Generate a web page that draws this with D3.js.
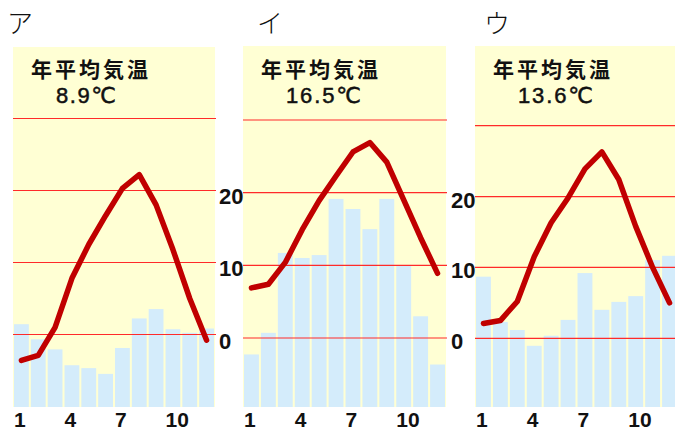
<!DOCTYPE html>
<html>
<head>
<meta charset="utf-8">
<script src="https://cdn.jsdelivr.net/npm/d3@7"></script>
<style>
  html, body { margin: 0; padding: 0; background: #ffffff; }
  svg { display: block; }
</style>
</head>
<body>
<svg id="chart" width="675" height="430"></svg>
<script>
// ---------- data ----------
const months = [1, 2, 3, 4, 5, 6, 7, 8, 9, 10, 11, 12];
const monthTickLabels = [1, 4, 7, 10];
const gridTemps = [0, 10, 20, 30];
const tempTickLabels = [0, 10, 20];
const panelNames = ["ア", "イ", "ウ"];
const titleText = "年平均気温";
const annualMeans = ["8.9", "16.5", "13.6"];

// monthly mean temperature (°C)
const tempA = [-3.6, -2.9, 1.0, 7.8, 12.5, 16.5, 20.3, 22.2, 18.0, 11.8, 5.0, -0.8];
const tempI = [6.9, 7.4, 10.4, 14.9, 18.9, 22.3, 25.6, 26.9, 24.2, 19.0, 13.8, 8.9];
const tempU = [2.1, 2.5, 5.2, 11.5, 16.3, 19.8, 23.9, 26.3, 22.4, 15.8, 10.0, 5.0];

// monthly precipitation (mm)
const precA = [115, 94, 80, 58, 54, 46, 82, 123, 136, 108, 103, 109];
const precI = [73, 103, 214, 207, 211, 289, 275, 247, 289, 196, 126, 59];
const precU = [181, 118, 107, 85, 99, 121, 186, 135, 146, 154, 204, 210];

const precipMax = 500;

// ---------- layout ----------
const layouts = [
  { x0: 13,  x1: 215, top: 47, bottom: 407, t0: 334.5, t30: 118.5, nameX: 7,   showAxis: false },
  { x0: 243, x1: 446, top: 46, bottom: 407, t0: 338,   t30: 120,   nameX: 257, showAxis: true },
  { x0: 475, x1: 678, top: 46, bottom: 407, t0: 338.3, t30: 125.7, nameX: 484, showAxis: true }
];
const temps = [tempA, tempI, tempU];
const precs = [precA, precI, precU];

const svg = d3.select("#chart");

layouts.forEach((L, i) => {
  const g = svg.append("g");

  const x = d3.scaleBand().domain(months).range([L.x0, L.x1])
    .paddingInner(0.12).paddingOuter(0.06);
  const yT = d3.scaleLinear().domain([0, 30]).range([L.t0, L.t30]);
  const yP = d3.scaleLinear().domain([0, precipMax]).range([L.bottom, L.bottom - 360]);

  // background
  g.append("rect")
    .attr("x", L.x0).attr("y", L.top)
    .attr("width", L.x1 - L.x0).attr("height", L.bottom - L.top)
    .attr("fill", "#ffffd4");

  // precipitation bars
  g.selectAll("rect.bar").data(precs[i]).join("rect")
    .attr("class", "bar")
    .attr("x", (d, k) => x(months[k]))
    .attr("width", x.bandwidth())
    .attr("y", d => yP(d))
    .attr("height", d => yP(0) - yP(d))
    .attr("fill", "#d4ecfb");

  // gridlines
  g.selectAll("line.grid").data(gridTemps).join("line")
    .attr("class", "grid")
    .attr("x1", L.x0).attr("x2", L.x1 + 1)
    .attr("y1", d => yT(d)).attr("y2", d => yT(d))
    .attr("stroke", "#ff2a2a").attr("stroke-width", 1.2);

  // temperature line
  const line = d3.line()
    .x((d, k) => x(months[k]) + x.bandwidth() / 2)
    .y(d => yT(d));
  g.append("path")
    .datum(temps[i])
    .attr("d", line)
    .attr("fill", "none")
    .attr("stroke", "#c00000")
    .attr("stroke-width", 5.5)
    .attr("stroke-linejoin", "round")
    .attr("stroke-linecap", "round");

  // y tick labels
  if (L.showAxis) {
    g.selectAll("text.ytick").data(tempTickLabels).join("text")
      .attr("class", "ytick")
      .attr("x", L.x0 - 24)
      .attr("y", d => yT(d) + 11)
      .attr("font-family", "'Liberation Sans', Arial, sans-serif")
      .attr("font-weight", "bold")
      .attr("font-size", 22)
      .attr("fill", "#111")
      .text(d => d);
  }

  // month tick labels
  g.selectAll("text.xtick").data(monthTickLabels).join("text")
    .attr("class", "xtick")
    .attr("x", d => x(d))
    .attr("y", 427)
    .attr("font-family", "'Liberation Sans', Arial, sans-serif")
    .attr("font-weight", "bold")
    .attr("font-size", 21)
    .attr("fill", "#111")
    .text(d => d);

  // panel name
  svg.append("text")
    .attr("x", L.nameX).attr("y", 33)
    .attr("font-family", "'Noto Sans CJK JP', sans-serif")
    .attr("font-weight", 300)
    .attr("font-size", 26)
    .attr("fill", "#111")
    .text(panelNames[i]);

  // annual mean title
  g.append("text")
    .attr("x", L.x0 + 18).attr("y", 77)
    .attr("font-family", "'Noto Sans CJK JP', sans-serif")
    .attr("font-weight", "bold")
    .attr("font-size", 21)
    .attr("letter-spacing", 3)
    .attr("fill", "#111")
    .text(titleText);

  // annual mean value
  const valStr = annualMeans[i] + "℃";
  g.append("text")
    .attr("x", L.x0 + 43).attr("y", 103)
    .attr("font-family", "'Liberation Sans', 'DejaVu Sans', sans-serif")
    .attr("font-size", 22)
    .attr("textLength", valStr.length * 15)
    .attr("lengthAdjust", "spacing")
    .attr("fill", "#111")
    .attr("stroke", "#111")
    .attr("stroke-width", 0.5)
    .text(valStr);
});
</script>
</body>
</html>
